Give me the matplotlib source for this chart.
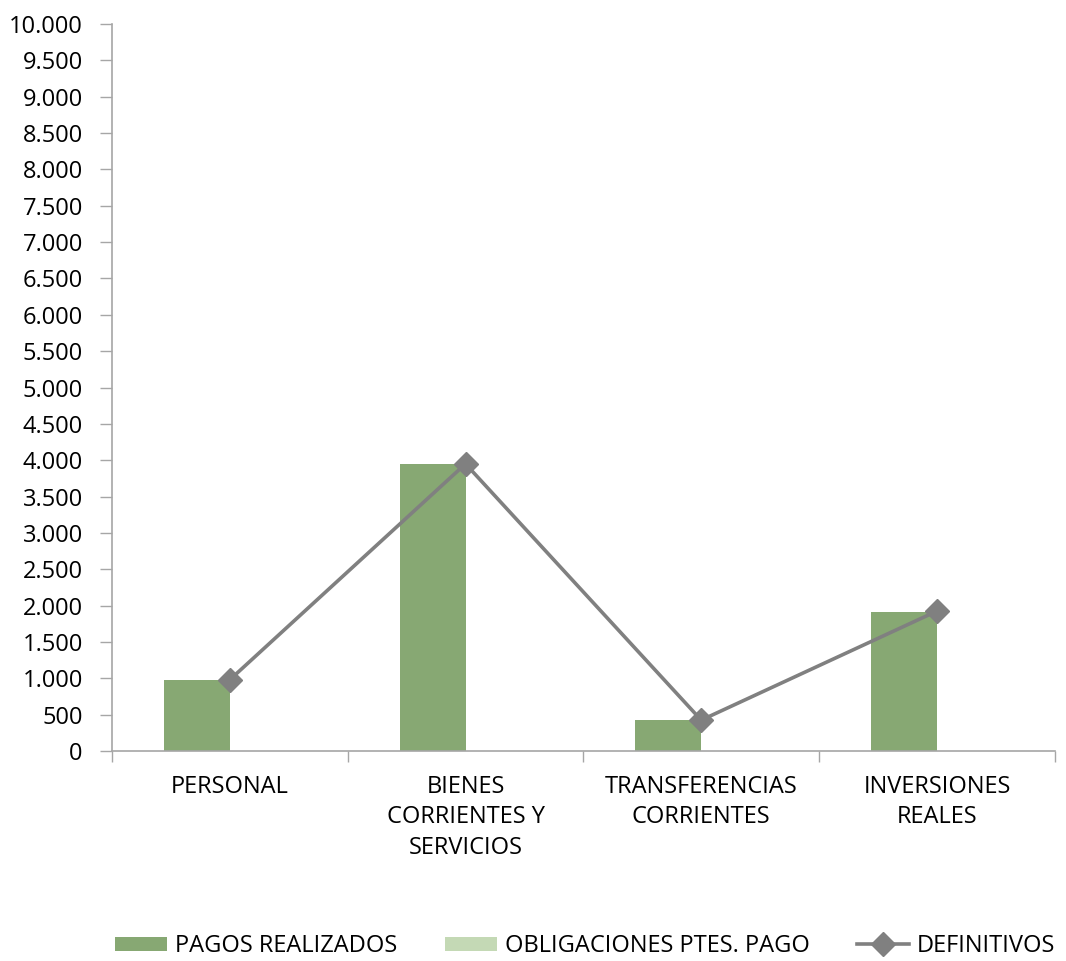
import matplotlib
matplotlib.use("Agg")
import matplotlib.pyplot as plt
import numpy as np
from matplotlib.ticker import FuncFormatter, MultipleLocator

plt.rcParams['font.family'] = ['Open Sans', 'DejaVu Sans']

categories = ["PERSONAL", "BIENES\nCORRIENTES Y\nSERVICIOS", "TRANSFERENCIAS\nCORRIENTES", "INVERSIONES\nREALES"]
pagos_realizados = [977, 3945, 422, 1916]
obligaciones_ptes = [0, 0, 0, 0]
definitivos = [980, 3950, 425, 1925]

FS = 17
fig = plt.figure(figsize=(10.66, 9.61), dpi=100)
ax = fig.add_axes([0.105, 0.2185, 0.8845, 0.7565])

x = np.arange(len(categories))
w = 0.28
b1 = ax.bar(x - w / 2, pagos_realizados, width=w, color="#87A873", label="PAGOS REALIZADOS")
b2 = ax.bar(x + w / 2, obligaciones_ptes, width=w, color="#C4D9B5", label="OBLIGACIONES PTES. PAGO")
l1, = ax.plot(x, definitivos, color="#808080", linewidth=2.6, marker="D", markersize=12,
              label="DEFINITIVOS")

ax.set_xlim(-0.5, len(categories) - 0.5)
ax.set_ylim(0, 10000)
ax.yaxis.set_major_locator(MultipleLocator(500))
ax.yaxis.set_major_formatter(FuncFormatter(lambda v, p: f"{int(v):,}".replace(",", ".")))

ax.set_xticks(np.arange(-0.5, len(categories)), minor=False)
ax.set_xticklabels([])
ax.set_xticks(x, minor=True)
ax.set_xticklabels(categories, minor=True, fontsize=FS, linespacing=1.38)
ax.tick_params(axis="x", which="minor", length=0, pad=17)
ax.tick_params(axis="x", which="major", length=8, color="#A6A6A6", width=1)
ax.tick_params(axis="y", length=9, color="#A6A6A6", width=1, labelsize=FS, pad=12)

for s in ["top", "right"]:
    ax.spines[s].set_visible(False)
for s in ["left", "bottom"]:
    ax.spines[s].set_color("#A6A6A6")
    ax.spines[s].set_linewidth(1.2)

fig.legend(handles=[b1, b2, l1], loc="center", bbox_to_anchor=(0.549, 0.0156), ncol=3,
           frameon=False, fontsize=FS, handlelength=2.2, handleheight=0.55,
           columnspacing=2.0, handletextpad=0.35)

fig.savefig("out.png", dpi=100)
